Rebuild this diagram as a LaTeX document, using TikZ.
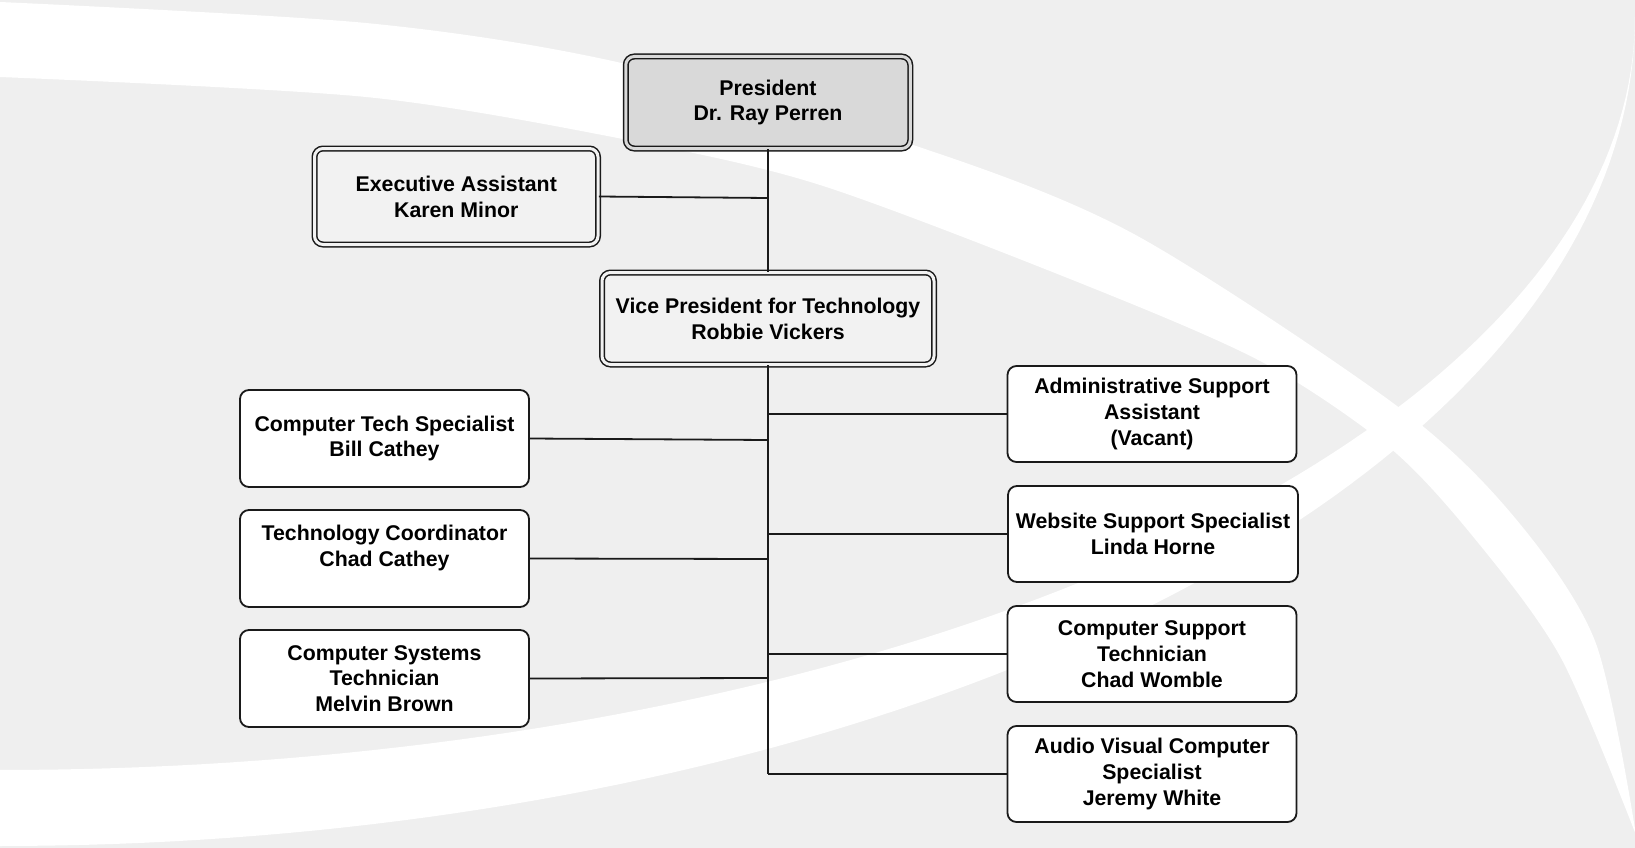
\documentclass[tikz,border=0pt]{standalone}
\usepackage{fontspec}
\setmainfont{Liberation Sans}
\definecolor{bggray}{HTML}{EFEFEF}
\definecolor{presfill}{HTML}{D9D9D9}
\definecolor{lightfill}{HTML}{F2F2F2}
\definecolor{ink}{HTML}{1A1A1A}
\begin{document}
\begin{tikzpicture}[x=1pt,y=-1pt,
  txt/.style={font=\fontsize{21.3}{25.8}\selectfont\bfseries, align=center, text=black, inner sep=0pt},
  onebox/.style={txt, draw=ink, line width=1.8pt, fill=white, rounded corners=9pt,
    minimum width=289pt, minimum height=96pt},
  twobox/.style={txt, draw=ink, line width=1.5pt, double distance=3pt, rounded corners=8.5pt},
  link/.style={draw=ink, line width=1.8pt},
  trunk/.style={draw=ink, line width=1.3pt}]
\useasboundingbox (0,0) rectangle (1635,848);
\fill[bggray] (0,0) rectangle (1635,848);
% background swooshes
\fill[white] plot[smooth] coordinates {(0,2) (366,23) (617,62) (913,145) (1132,233) (1393,403) (1510,512) (1595,641) (1636,835)}
  -- plot[smooth] coordinates {(1636,835) (1561,658) (1475,539) (1390,448) (1262,362) (1080,283) (820,185) (628,140) (366,97) (0,77)} -- cycle;
\fill[white] plot[domain=0:90,samples=90,variable=\t] ({1635*cos(\t)},{17+753*sin(\t)})
  -- plot[domain=90:0,samples=90,variable=\t] ({1635*cos(\t)},{17+829*sin(\t)}) -- cycle;

% boxes
\node[twobox, fill=presfill, double=presfill, minimum width=284.5pt, minimum height=92pt] (pres) at (768,102.5) {President\\Dr. Ray Perren};
\node[twobox, fill=lightfill, double=lightfill, minimum width=283.5pt, minimum height=96pt] (exec) at (456.25,196.5) {Executive Assistant\\Karen Minor};
\node[twobox, fill=lightfill, double=lightfill, minimum width=332pt, minimum height=92pt] (vp) at (768,318.5) {Vice President for Technology\\Robbie Vickers};

\node[onebox, minimum height=97pt] (cts) at (384.5,438.5) {Computer Tech Specialist\\Bill Cathey};
\node[onebox, minimum height=97pt] (tc) at (384.5,558.5) {Technology Coordinator\\Chad Cathey\\\mbox{}};
\node[onebox, minimum height=97pt] (cst) at (384.5,678.5) {Computer Systems\\Technician\\Melvin Brown};

\node[onebox] (adm) at (1152,414) {Administrative Support\\Assistant\\(Vacant)};
\node[onebox, minimum width=290pt] (web) at (1153,534) {Website Support Specialist\\Linda Horne};
\node[onebox] (csup) at (1152,654) {Computer Support\\Technician\\Chad Womble};
\node[onebox] (av) at (1152,774) {Audio Visual Computer\\Specialist\\Jeremy White};

% trunk coordinates
\coordinate (jexec) at (768,198);
\coordinate (jcts) at (768,440);
\coordinate (jtc) at (768,559);
\coordinate (jcst) at (768,678);
\coordinate (jadm) at (768,414);
\coordinate (jweb) at (768,534);
\coordinate (jcsup) at (768,654);
\coordinate (jav) at (768,774);

% connectors
\draw[trunk] (pres.south) -- (vp.north);
\draw[trunk] (vp.south) -- (jav);
\draw[link] (exec.east) -- (jexec);
\draw[link] (cts.east) -- (jcts);
\draw[link] (tc.east) -- (jtc);
\draw[link] (cst.east) -- (jcst);
\draw[link] (jadm) -- (adm.west);
\draw[link] (jweb) -- (web.west);
\draw[link] (jcsup) -- (csup.west);
\draw[link] (jav) -- (av.west);
\end{tikzpicture}
\end{document}
